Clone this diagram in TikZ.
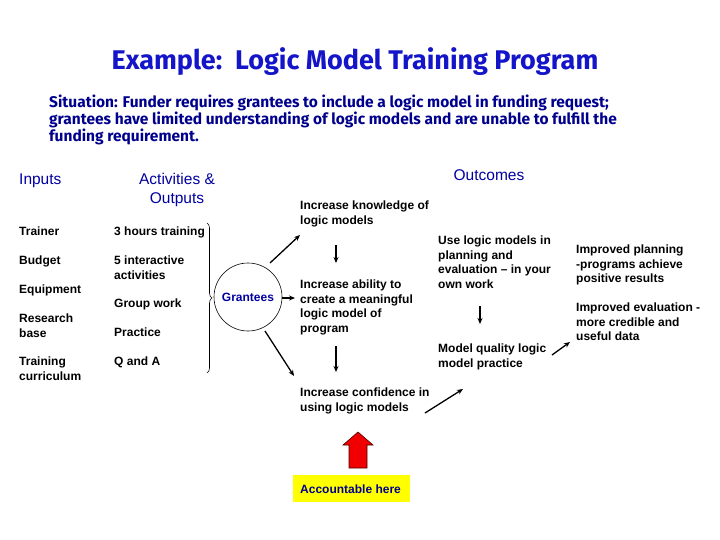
\documentclass[tikz,border=0pt]{standalone}
\usepackage{fontspec}
\setmainfont{Liberation Sans}
\newfontfamily\titlefont{Fira Sans}
\usetikzlibrary{arrows.meta,decorations.pathreplacing}
\definecolor{titleblue}{RGB}{20,20,200}
\definecolor{sitblue}{RGB}{0,0,140}
\definecolor{headblue}{RGB}{0,0,160}
\definecolor{redfill}{RGB}{240,0,0}
\definecolor{yel}{RGB}{255,255,0}
\tikzset{
  txt/.style={anchor=north west, inner sep=0pt, align=left, font=\fontsize{12}{14.5}\selectfont\bfseries},
  head/.style={inner sep=0pt, align=center, text=headblue, font=\fontsize{15.5}{19}\selectfont},
  arr/.style={-{Stealth[length=6pt,width=5pt]}, line width=1.3pt},
}
\begin{document}
\begin{tikzpicture}[x=1pt,y=-1pt]
\useasboundingbox (0,0) rectangle (720,540);
\node[text=titleblue, font=\titlefont\fontsize{27}{30}\selectfont\bfseries] (title) at (355,62) {Example:\ \ Logic Model Training Program};
\node[anchor=north west, inner sep=0pt, align=left, text=sitblue, font=\titlefont\fontsize{15.5}{16.8}\selectfont\bfseries] (sit) at (49,95)
 {Situation: Funder requires grantees to include a logic model in funding request;\\grantees have limited understanding of logic models and are unable to fulfill the\\funding requirement.};
\node[head, anchor=west] (inputs) at (19,181) {Inputs};
\node[head] (act) at (177,190) {Activities \&\\Outputs};
\node[head] (outc) at (489,175) {Outcomes};
% inputs
\node[txt] (trainer) at (19,227) {Trainer};
\node[txt] (budget) at (19,256) {Budget};
\node[txt] (equip) at (19,285) {Equipment};
\node[txt] (research) at (19,314) {Research\\base};
\node[txt] (curr) at (19,357) {Training\\curriculum};
% activities
\node[txt] (a1) at (114,227) {3 hours training};
\node[txt] (a2) at (114,256) {5 interactive\\activities};
\node[txt] (a3) at (114,299) {Group work};
\node[txt] (a4) at (114,328) {Practice};
\node[txt] (a5) at (114,357) {Q and A};
\draw[decorate, decoration={brace, amplitude=5pt}, line width=0.6pt] (207,223) -- (207,373);
% grantees
\node[circle, draw, line width=0.6pt, minimum size=68pt, inner sep=0pt, text=headblue, font=\fontsize{12}{14}\selectfont\bfseries] (gr) at (248,297) {Grantees};
% short term outcomes
\node[txt] (k) at (300,201) {Increase knowledge of\\logic models};
\node[txt] (ab) at (300,280) {Increase ability to\\create a meaningful\\logic model of\\program};
\node[txt] (conf) at (300,388) {Increase confidence in\\using logic models};
% medium
\node[txt] (use) at (438,236) {Use logic models in\\planning and\\evaluation -- in your\\own work};
\node[txt] (mq) at (438,344) {Model quality logic\\model practice};
% long
\node[txt] (ip) at (576,245) {Improved planning\\-programs achieve\\positive results};
\node[txt] (ie) at (576,303) {Improved evaluation -\\more credible and\\useful data};
% arrows
\coordinate (g1) at (270,263); \coordinate (g1e) at (300,235);
\draw[arr] (g1) -- (g1e);
\coordinate (g2) at (282,298); \coordinate (g2e) at (295,298);
\draw[arr] (g2) -- (g2e);
\coordinate (g3) at (265,331); \coordinate (g3e) at (294,376);
\draw[arr] (g3) -- (g3e);
\coordinate (d1) at (336,245); \coordinate (d1e) at (336,263);
\draw[arr] (d1) -- (d1e);
\coordinate (d2) at (336,346); \coordinate (d2e) at (336,372);
\draw[arr] (d2) -- (d2e);
\coordinate (d3) at (480,306); \coordinate (d3e) at (480,324);
\draw[arr] (d3) -- (d3e);
\coordinate (c1) at (425,413); \coordinate (c1e) at (463,389);
\draw[arr] (c1) -- (c1e);
\coordinate (m1) at (552,355); \coordinate (m1e) at (570,342);
\draw[arr] (m1) -- (m1e);
% red arrow and box
\draw[fill=redfill, draw=black!70!red, line width=0.6pt] (349,468) -- (349,445) -- (343,445) -- (358,432) -- (373,445) -- (367,445) -- (367,468) -- cycle;
\node[fill=yel, anchor=north west, minimum width=117pt, minimum height=27pt, inner sep=0pt] (acc) at (293,475) {};
\node[anchor=west, inner sep=0pt, text=sitblue, font=\fontsize{12}{14}\selectfont\bfseries] (acct) at (300,489) {Accountable here};
\end{tikzpicture}
\end{document}
